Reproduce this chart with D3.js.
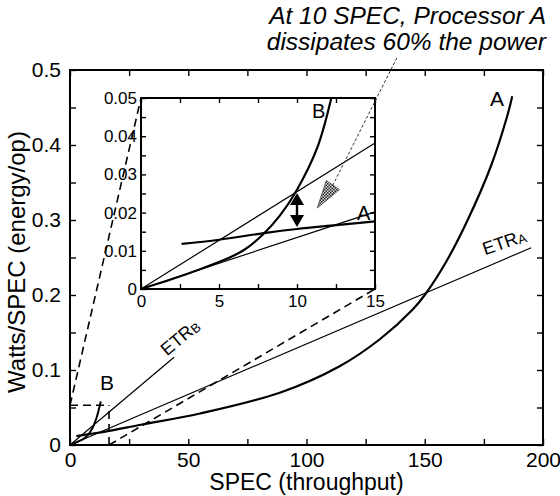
<!DOCTYPE html>
<html>
<head>
<meta charset="utf-8">
<script src="https://cdn.jsdelivr.net/npm/d3@7"></script>
<style>
  html, body { margin: 0; background: #fff; }
  svg { display: block; }
</style>
</head>
<body>
<div id="chart"></div>
<script>
/* ── DATA ── */
// main chart: SPEC (throughput) vs Watts/SPEC (energy/op)
const mainXTicks = [0, 50, 100, 150, 200];
const mainYTicks = [0, 0.1, 0.2, 0.3, 0.4, 0.5];
const curveA = [[2.7, 0.0118], [8, 0.0145], [15, 0.0178], [30, 0.027], [55, 0.042], [89, 0.070],
                [114, 0.105], [131, 0.141], [145, 0.181], [150, 0.2], [159, 0.244], [168, 0.299],
                [178, 0.372], [185, 0.44], [187, 0.465]];
const curveB = [[0, 0], [2, 0.0026], [4, 0.0055], [5.5, 0.0079], [6.6, 0.0102], [7.8, 0.0142],
                [8.9, 0.0192], [10, 0.026], [11.3, 0.037], [13, 0.058]];
const etrA   = [[0, 0], [195, 0.263]];
const etrB   = [[0, 0], [44, 0.117]];
const zoomBox = [16.5, 0.053];            // dashed region blown up in the inset

// inset: 0–15 SPEC, 0–0.05 Watts/SPEC
const insetXTicks = [0, 5, 10, 15];
const insetYTicks = [0, 0.01, 0.02, 0.03, 0.04, 0.05];
const insetA    = [[2.6, 0.0118], [5, 0.0129], [8, 0.0147], [10, 0.0157], [12.5, 0.0167], [15, 0.0177]];
const insetB    = [[0, 0], [2, 0.0026], [4, 0.0055], [5.5, 0.0079], [6.6, 0.0102], [7.8, 0.0142],
                   [8.9, 0.0192], [10, 0.026], [11.3, 0.037], [12.2, 0.05]];
const insetEtrA = [[0, 0], [15, 0.0202]];
const insetEtrB = [[0, 0], [15, 0.0382]];
const gapArrow  = [10, 0.0251, 0.0162];   // x, top (B), bottom (A)
const pointer   = [[16.4, 0.0605], [12.3, 0.0272], [11.3, 0.0212]]; // start, head base, tip

const mainLabels  = [{ t: 'A', x: 177.6, y: 0.452 }, { t: 'B', x: 12.7, y: 0.0733 }];
const insetLabels = [{ t: 'B', x: 10.96, y: 0.0448 }, { t: 'A', x: 13.85, y: 0.018 }];
const etrLabels   = [{ sub: 'B', x: 41, y: 0.118, rot: -40 }, { sub: 'A', x: 175.5, y: 0.253, rot: -19 }];
const note = ['At 10 SPEC, Processor A', 'dissipates 60% the power'];

/* ── SETUP ── */
const FONT = "'Liberation Sans', Arial, Helvetica, sans-serif";
const W = 560, H = 496;
const svg = d3.select('#chart').append('svg').attr('width', W).attr('height', H)
  .style('font-family', FONT);

const x  = d3.scaleLinear().domain([0, 200]).range([70, 543]);
const y  = d3.scaleLinear().domain([0, 0.5]).range([445, 70]);
const ix = d3.scaleLinear().domain([0, 15]).range([141, 375]);
const iy = d3.scaleLinear().domain([0, 0.05]).range([289, 98]);

const defs = svg.append('defs');
const pat = defs.append('pattern').attr('id', 'stip')
  .attr('width', 3).attr('height', 3).attr('patternUnits', 'userSpaceOnUse');
pat.append('rect').attr('width', 3).attr('height', 3).attr('fill', '#ddd');
pat.append('rect').attr('width', 1.5).attr('height', 1.5).attr('fill', '#222');
pat.append('rect').attr('x', 1.5).attr('y', 1.5).attr('width', 1.5).attr('height', 1.5).attr('fill', '#222');

/* ── FRAME + TICKS ── */
function frame(g, xs, ys, o) {
  const [x0, x1] = xs.range(), [y0, y1] = ys.range();
  const minorX = d3.range(xs.domain()[0], xs.domain()[1] + 1e-9, o.xStep);
  const minorY = d3.range(ys.domain()[0], ys.domain()[1] + 1e-9, o.yStep);
  const style = ax => ax.call(a => a.select('.domain').remove())
    .call(a => a.selectAll('line').attr('stroke', '#000').attr('stroke-width', 1.4));
  const labels = a => a.call(s => s.select('.domain').remove())
    .call(s => s.selectAll('text').attr('fill', '#000').style('font-family', FONT).style('font-size', o.fs + 'px'));

  g.append('rect').attr('x', x0).attr('y', y1).attr('width', x1 - x0).attr('height', y0 - y1)
    .attr('fill', '#fff').attr('stroke', '#000').attr('stroke-width', 2);

  g.append('g').attr('transform', `translate(0,${y1})`)
    .call(d3.axisTop(xs).tickValues(minorX).tickSize(-o.tick).tickSizeOuter(0).tickFormat('')).call(style);
  g.append('g').attr('transform', `translate(${x1},0)`)
    .call(d3.axisRight(ys).tickValues(minorY).tickSize(-o.tick).tickSizeOuter(0).tickFormat('')).call(style);
  g.append('g').attr('transform', `translate(0,${y0})`)
    .call(d3.axisBottom(xs).tickValues(minorX).tickSize(-o.tick).tickSizeOuter(0).tickFormat('')).call(style);
  g.append('g').attr('transform', `translate(${x0},0)`)
    .call(d3.axisLeft(ys).tickValues(minorY).tickSize(-o.tick).tickSizeOuter(0).tickFormat('')).call(style);

  g.append('g').attr('transform', `translate(0,${y0})`)
    .call(d3.axisBottom(xs).tickValues(o.xTicks).tickSize(0).tickPadding(o.padX).tickFormat(String))
    .call(labels);
  g.append('g').attr('transform', `translate(${x0},0)`)
    .call(d3.axisLeft(ys).tickValues(o.yTicks).tickSize(0).tickPadding(o.padY).tickFormat(String))
    .call(labels);
}

function path(g, data, xs, ys, w, dash) {
  return g.append('path').datum(data)
    .attr('fill', 'none').attr('stroke', '#000').attr('stroke-width', w)
    .attr('stroke-dasharray', dash || null).attr('stroke-linejoin', 'round')
    .attr('d', d3.line().x(d => xs(d[0])).y(d => ys(d[1])).curve(d3.curveCatmullRom.alpha(0.5)));
}

/* ── MAIN CHART ── */
const main = svg.append('g');
frame(main, x, y, { xStep: 25, yStep: 0.05, tick: 6, xTicks: mainXTicks, yTicks: mainYTicks,
                    padX: 7, padY: 9, fs: 21 });

path(main, etrA, x, y, 1.2);
path(main, etrB, x, y, 1.2);
path(main, curveA, x, y, 2.2);
path(main, curveB, x, y, 2);

// dashed zoom region and connectors to inset
path(main, [[0, zoomBox[1]], [zoomBox[0], zoomBox[1]]], x, y, 1.6, '8,5');
path(main, [[zoomBox[0], 0], [zoomBox[0], zoomBox[1]]], x, y, 1.6, '8,5');
main.append('line').attr('x1', x(0)).attr('y1', y(zoomBox[1])).attr('x2', ix(0)).attr('y2', iy(0.05))
  .attr('stroke', '#000').attr('stroke-width', 1.6).attr('stroke-dasharray', '8,5');
main.append('line').attr('x1', x(zoomBox[0])).attr('y1', y(0)).attr('x2', ix(15)).attr('y2', iy(0))
  .attr('stroke', '#000').attr('stroke-width', 1.6).attr('stroke-dasharray', '8,5');

main.selectAll('text.lbl').data(mainLabels).join('text').attr('class', 'lbl')
  .attr('x', d => x(d.x)).attr('y', d => y(d.y)).attr('font-size', 21).text(d => d.t);

etrLabels.forEach(d => {
  const t = main.append('text')
    .attr('transform', `translate(${x(d.x)},${y(d.y)}) rotate(${d.rot})`).attr('font-size', 18);
  t.append('tspan').text('ETR');
  t.append('tspan').attr('font-size', 13).attr('dy', 1).text(d.sub);
});

/* ── INSET ── */
const inset = svg.append('g');
frame(inset, ix, iy, { xStep: 2.5, yStep: 0.005, tick: 5, xTicks: insetXTicks, yTicks: insetYTicks,
                       padX: 6, padY: 4, fs: 17 });

path(inset, insetEtrA, ix, iy, 1.2);
path(inset, insetEtrB, ix, iy, 1.2);
path(inset, insetB, ix, iy, 2.2);
path(inset, insetA, ix, iy, 2.2);

inset.selectAll('text.lbl').data(insetLabels).join('text').attr('class', 'lbl')
  .attr('x', d => ix(d.x)).attr('y', d => iy(d.y)).attr('font-size', 20).text(d => d.t);

// double arrow showing the gap at 10 SPEC
{
  const ax = ix(gapArrow[0]), yt = iy(gapArrow[1]), yb = iy(gapArrow[2]);
  inset.append('line').attr('x1', ax).attr('x2', ax).attr('y1', yt + 6).attr('y2', yb - 6)
    .attr('stroke', '#000').attr('stroke-width', 2.4);
  inset.append('path').attr('fill', '#000')
    .attr('d', `M${ax},${yt}L${ax - 7},${yt + 12}L${ax + 7},${yt + 12}Z`);
  inset.append('path').attr('fill', '#000')
    .attr('d', `M${ax},${yb}L${ax - 7},${yb - 12}L${ax + 7},${yb - 12}Z`);
}

// pointer from the note to the gap
{
  const [p0, p1, p2] = pointer.map(p => [ix(p[0]), iy(p[1])]);
  svg.append('line').attr('x1', p0[0]).attr('y1', p0[1]).attr('x2', p1[0]).attr('y2', p1[1])
    .attr('stroke', '#333').attr('stroke-width', 1).attr('stroke-dasharray', '3,2');
  const dx = p2[0] - p1[0], dy = p2[1] - p1[1], len = Math.hypot(dx, dy);
  const nx = -dy / len * 8, ny = dx / len * 8;
  svg.append('path').attr('fill', 'url(#stip)').attr('stroke', '#444').attr('stroke-width', 0.8)
    .attr('d', `M${p1[0] + nx},${p1[1] + ny}L${p2[0]},${p2[1]}L${p1[0] - nx},${p1[1] - ny}Z`);
}

/* ── AXIS TITLES + NOTE ── */
svg.append('text').attr('x', (x.range()[0] + x.range()[1]) / 2).attr('y', 490)
  .attr('text-anchor', 'middle').attr('font-size', 23).text('SPEC (throughput)');
svg.append('text').attr('transform', `translate(25,262) rotate(-90)`)
  .attr('text-anchor', 'middle').attr('font-size', 24).text('Watts/SPEC (energy/op)');

svg.selectAll('text.note').data(note).join('text').attr('class', 'note')
  .attr('x', 546).attr('y', (d, i) => 24 + i * 26)
  .attr('text-anchor', 'end').attr('font-size', 24.5).attr('font-style', 'italic').text(d => d);
</script>
</body>
</html>
